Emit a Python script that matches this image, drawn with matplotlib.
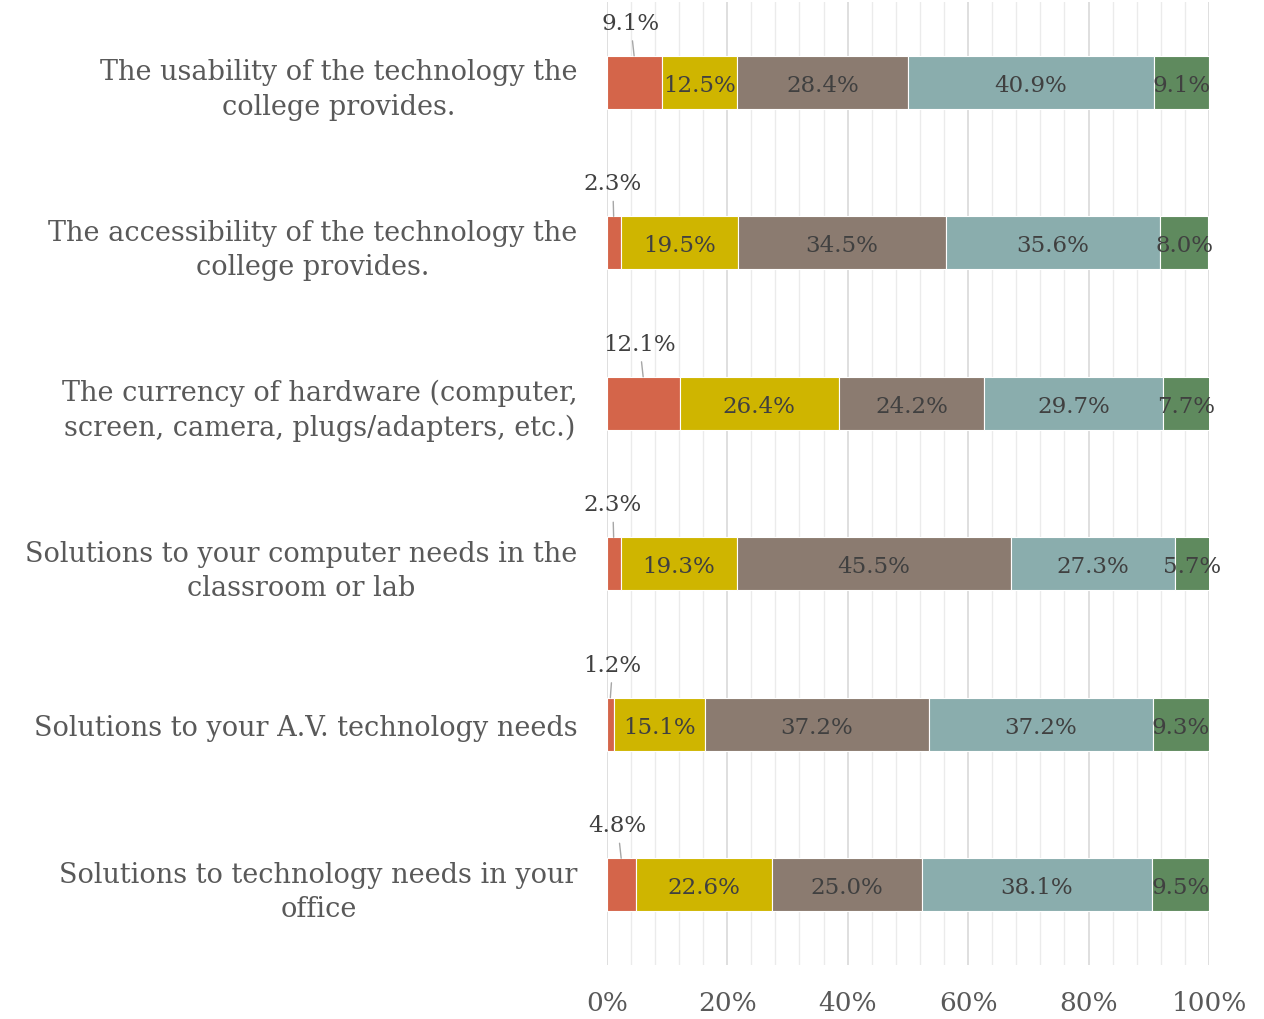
import matplotlib.pyplot as plt
import numpy as np

# Survey items (top to bottom)
items = [
    'The usability of the technology the\ncollege provides.',
    'The accessibility of the technology the\ncollege provides.',
    'The currency of hardware (computer,\nscreen, camera, plugs/adapters, etc.)',
    'Solutions to your computer needs in the\nclassroom or lab',
    'Solutions to your A.V. technology needs',
    'Solutions to technology needs in your\noffice',
]

# Response shares (%) per rating level, lowest to highest
level1 = [9.1, 2.3, 12.1, 2.3, 1.2, 4.8]
level2 = [12.5, 19.5, 26.4, 19.3, 15.1, 22.6]
level3 = [28.4, 34.5, 24.2, 45.5, 37.2, 25.0]
level4 = [40.9, 35.6, 29.7, 27.3, 37.2, 38.1]
level5 = [9.1, 8.0, 7.7, 5.7, 9.3, 9.5]

levels = [level1, level2, level3, level4, level5]
colors = ['#D4654A', '#CFB500', '#8B7B70', '#8AADAD', '#5F8A5E']

plt.rcParams['font.family'] = ['DejaVu Serif']

fig = plt.figure(figsize=(12.64, 10.2), dpi=100)
ax = fig.add_axes([0.480, 0.053, 0.4765, 0.944])

y = np.arange(len(items))
bar_h = 0.33
left = np.zeros(len(items))
for k, (vals, col) in enumerate(zip(levels, colors)):
    vals = np.array(vals)
    ax.barh(y, vals, left=left, height=bar_h, color=col,
            edgecolor='white', linewidth=0.8, zorder=3)
    for i, v in enumerate(vals):
        mid = left[i] + v / 2
        if k == 0:
            # small first segment: label sits above with a leader line
            lx = max(mid - 0.6, 1.0)
            ax.annotate(f'{v:.1f}%', xy=(mid, i - bar_h / 2), xytext=(lx, i - 0.37),
                        ha='center', va='center', fontsize=16.5, color='#404040',
                        arrowprops=dict(arrowstyle='-', color='#A6A6A6', lw=1,
                                        shrinkA=3, shrinkB=0),
                        zorder=4, annotation_clip=False)
        else:
            ax.text(mid, i + 0.015, f'{v:.1f}%', ha='center', va='center',
                    fontsize=16.5, color='#404040', zorder=4)
    left += vals

ax.set_xlim(0, 100)
ax.set_ylim(len(items) - 0.5, -0.5)
ax.set_xticks(np.arange(0, 101, 20))
ax.set_xticklabels([f'{t}%' for t in range(0, 101, 20)])
ax.set_xticks(np.arange(0, 101, 4), minor=True)
ax.set_yticks(y)
ax.set_yticklabels(items, multialignment='center', linespacing=1.35)

ax.grid(axis='x', which='major', color='#D9D9D9', lw=1.2, zorder=0)
ax.grid(axis='x', which='minor', color='#EBEBEB', lw=1.0, zorder=0)
ax.tick_params(axis='x', which='both', length=0, pad=18, labelsize=19, labelcolor='#595959')
ax.tick_params(axis='y', length=0, pad=21, labelsize=19.5, labelcolor='#595959')
for s in ax.spines.values():
    s.set_visible(False)

fig.savefig('out.png', dpi=100)
